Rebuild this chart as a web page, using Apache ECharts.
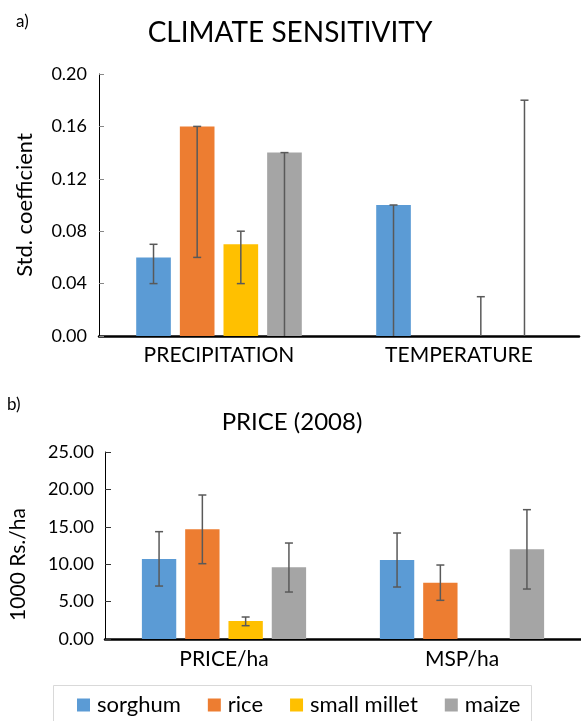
<!DOCTYPE html>
<html>
<head>
<meta charset="utf-8">
<script src="https://cdn.jsdelivr.net/npm/echarts@6/dist/echarts.min.js"></script>
<style>
html,body{margin:0;padding:0;background:#fff;}
#chart{width:581px;height:721px;}
</style>
</head>
<body>
<div id="chart"></div>
<script>
// ---- Data ----
const seriesNames = ['sorghum', 'rice', 'small millet', 'maize'];
const seriesColors = ['#5B9BD5', '#ED7D31', '#FFC000', '#A5A5A5'];

// a) Climate sensitivity
const climateCategories = ['PRECIPITATION', 'TEMPERATURE'];
const climateTicks = [0, 0.04, 0.08, 0.12, 0.16, 0.20];
const climateSorghum = [0.06, 0.10];
const climateRice = [0.16, 0];
const climateMillet = [0.07, 0];
const climateMaize = [0.14, 0];
const climateSorghumLow = [0.04, 0.00];
const climateSorghumHigh = [0.07, 0.10];
const climateRiceLow = [0.06, null];
const climateRiceHigh = [0.16, null];
const climateMilletLow = [0.04, 0.00];
const climateMilletHigh = [0.08, 0.03];
const climateMaizeLow = [0.00, 0.00];
const climateMaizeHigh = [0.14, 0.18];

// b) Price (2008)
const priceCategories = ['PRICE/ha', 'MSP/ha'];
const priceTicks = [0, 5, 10, 15, 20, 25];
const priceSorghum = [10.70, 10.56];
const priceRice = [14.66, 7.53];
const priceMillet = [2.40, null];
const priceMaize = [9.58, 11.99];
const priceSorghumLow = [7.08, 6.95];
const priceSorghumHigh = [14.35, 14.17];
const priceRiceLow = [10.07, 5.17];
const priceRiceHigh = [19.25, 9.89];
const priceMilletLow = [1.78, null];
const priceMilletHigh = [2.94, null];
const priceMaizeLow = [6.28, 6.68];
const priceMaizeHigh = [12.83, 17.29];

// ---- Chart ----
const FONT = 'Lato';
const CAT_GAP = 0.31;
const BAR_GAP = 0.26;

const climateVals = [climateSorghum, climateRice, climateMillet, climateMaize];
const climateLows = [climateSorghumLow, climateRiceLow, climateMilletLow, climateMaizeLow];
const climateHighs = [climateSorghumHigh, climateRiceHigh, climateMilletHigh, climateMaizeHigh];
const priceVals = [priceSorghum, priceRice, priceMillet, priceMaize];
const priceLows = [priceSorghumLow, priceRiceLow, priceMilletLow, priceMaizeLow];
const priceHighs = [priceSorghumHigh, priceRiceHigh, priceMilletHigh, priceMaizeHigh];

function errData(lows, highs) {
  const out = [];
  lows.forEach((lo, i) => {
    if (lo !== null && highs[i] !== null) out.push([i, lo, highs[i]]);
  });
  return out;
}

function makeErr(gridIdx, si, lows, highs) {
  return {
    type: 'custom',
    xAxisIndex: gridIdx,
    yAxisIndex: gridIdx,
    z: 5,
    silent: true,
    encode: { x: 0, y: [1, 2] },
    data: errData(lows, highs),
    renderItem: function (params, api) {
      const cat = api.value(0), lo = api.value(1), hi = api.value(2);
      const band = api.size([1, 0])[0];
      const groupW = band * (1 - CAT_GAP);
      const w = groupW / (4 + 3 * BAR_GAP);
      const cx = api.coord([cat, 0])[0] - groupW / 2 + si * w * (1 + BAR_GAP) + w / 2;
      const yHi = api.coord([cat, hi])[1];
      const yLo = api.coord([cat, lo])[1];
      const st = { stroke: '#595959', lineWidth: 1.5 };
      const cap = 4;
      const children = [
        { type: 'line', shape: { x1: cx, y1: yLo, x2: cx, y2: yHi }, style: st },
        { type: 'line', shape: { x1: cx - cap, y1: yHi, x2: cx + cap, y2: yHi }, style: st }
      ];
      if (lo !== 0) {
        children.push({ type: 'line', shape: { x1: cx - cap, y1: yLo, x2: cx + cap, y2: yLo }, style: st });
      }
      return { type: 'group', children: children };
    }
  };
}

const series = [];
seriesNames.forEach((name, si) => {
  series.push({
    name: name, type: 'bar', xAxisIndex: 0, yAxisIndex: 0,
    data: climateVals[si], barCategoryGap: (CAT_GAP * 100) + '%', barGap: (BAR_GAP * 100) + '%',
    itemStyle: { color: seriesColors[si] }
  });
});
seriesNames.forEach((name, si) => {
  series.push({
    name: name, type: 'bar', xAxisIndex: 1, yAxisIndex: 1,
    data: priceVals[si], barCategoryGap: (CAT_GAP * 100) + '%', barGap: (BAR_GAP * 100) + '%',
    itemStyle: { color: seriesColors[si] }
  });
});
seriesNames.forEach((name, si) => {
  series.push(makeErr(0, si, climateLows[si], climateHighs[si]));
  series.push(makeErr(1, si, priceLows[si], priceHighs[si]));
});

const chart = echarts.init(document.getElementById('chart'), null, { renderer: 'canvas' });
chart.setOption({
  animation: false,
  backgroundColor: '#ffffff',
  textStyle: { fontFamily: FONT },
  title: [
    { text: 'CLIMATE SENSITIVITY', left: 290, top: 19, textAlign: 'center', padding: 0,
      textStyle: { fontFamily: FONT, fontSize: 28, fontWeight: 'normal', color: '#000' } },
    { text: 'PRICE (2008)', left: 292, top: 410, textAlign: 'center', padding: 0,
      textStyle: { fontFamily: FONT, fontSize: 24, fontWeight: 'normal', color: '#000' } },
    { text: 'a)', left: 16, top: 13, padding: 0,
      textStyle: { fontFamily: FONT, fontSize: 17, fontWeight: 'normal', color: '#000' } },
    { text: 'b)', left: 7, top: 396, padding: 0,
      textStyle: { fontFamily: FONT, fontSize: 17, fontWeight: 'normal', color: '#000' } }
  ],
  legend: {
    data: seriesNames,
    left: 77, top: 694, padding: 0,
    icon: 'rect', itemWidth: 13, itemHeight: 13, itemGap: 27,
    textStyle: { fontFamily: FONT, fontSize: 22, color: '#000', padding: [0, 0, 0, 2] }
  },
  graphic: [
    { type: 'rect', shape: { x: 53.5, y: 685.5, width: 478, height: 60 },
      style: { fill: 'none', stroke: '#d9d9d9', lineWidth: 1 }, silent: true, z: -1 }
  ],
  grid: [
    { left: 99, right: 2, top: 74, height: 262 },
    { left: 104, right: 0, top: 452, height: 187 }
  ],
  xAxis: [
    { type: 'category', gridIndex: 0, data: climateCategories,
      axisLine: { lineStyle: { color: '#000', width: 2.5 } }, axisTick: { show: false },
      axisLabel: { fontFamily: FONT, fontSize: 21, color: '#000', margin: 9 } },
    { type: 'category', gridIndex: 1, data: priceCategories,
      axisLine: { lineStyle: { color: '#000', width: 2.5 } }, axisTick: { show: false },
      axisLabel: { fontFamily: FONT, fontSize: 21, color: '#000', margin: 10 } }
  ],
  yAxis: [
    { type: 'value', gridIndex: 0, min: 0, max: 0.20, interval: 0.04,
      name: 'Std. coefficient', nameLocation: 'middle', nameGap: 63, nameRotate: 90,
      nameTextStyle: { fontFamily: FONT, fontSize: 22, color: '#000' },
      axisLine: { show: true, lineStyle: { color: '#000', width: 1 } },
      axisTick: { show: true, inside: true, length: 5, lineStyle: { color: '#888' } },
      splitLine: { show: false },
      axisLabel: { fontFamily: FONT, fontSize: 18, color: '#000', margin: 12,
        formatter: v => v.toFixed(2) } },
    { type: 'value', gridIndex: 1, min: 0, max: 25, interval: 5,
      name: '1000 Rs./ha', nameLocation: 'middle', nameGap: 76, nameRotate: 90,
      nameTextStyle: { fontFamily: FONT, fontSize: 21, color: '#000', padding: [0, 38, 0, 0] },
      axisLine: { show: true, lineStyle: { color: '#000', width: 1 } },
      axisTick: { show: true, inside: true, length: 6, lineStyle: { color: '#333' } },
      splitLine: { show: false },
      axisLabel: { fontFamily: FONT, fontSize: 18, color: '#000', margin: 11,
        formatter: v => v.toFixed(2) } }
  ],
  series: series
});
</script>
</body>
</html>
